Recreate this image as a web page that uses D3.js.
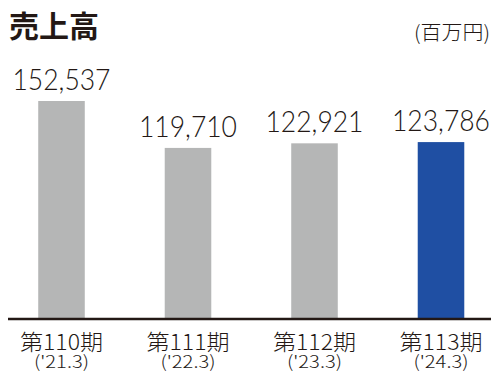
<!DOCTYPE html>
<html>
<head>
<meta charset="utf-8">
<script src="https://cdn.jsdelivr.net/npm/d3@7"></script>
<style>
  html, body { margin: 0; padding: 0; background: #fff; }
  svg { display: block; }
</style>
</head>
<body>
<svg id="chart" width="500" height="380"></svg>
<script>
const periods = ["第110期", "第111期", "第112期", "第113期"];
const dates = ["('21.3)", "('22.3)", "('23.3)", "('24.3)"];
const sales = [152537, 119710, 122921, 123786];
const title = "売上高";
const unit = "(百万円)";

const W = 500, H = 380;
const baseY = 319;
const svg = d3.select("#chart");
const ink = "#231815";
const cjk = "'Noto Sans CJK JP', 'Noto Sans', sans-serif";

const x = d3.scaleBand()
  .domain(periods)
  .range([-1.75, 504.25])
  .paddingInner(0.632)
  .paddingOuter(0.316);

const y = d3.scaleLinear()
  .domain([0, 152537])
  .range([baseY, 101]);

// bars
svg.append("g").selectAll("rect")
  .data(periods)
  .join("rect")
  .attr("x", d => x(d))
  .attr("width", x.bandwidth())
  .attr("y", (d, i) => y(sales[i]))
  .attr("height", (d, i) => baseY - y(sales[i]))
  .attr("fill", (d, i) => i === periods.length - 1 ? "#1f4fa3" : "#b5b6b6");

// value labels
svg.append("g").selectAll("text")
  .data(periods)
  .join("text")
  .attr("x", d => x(d) + x.bandwidth() / 2)
  .attr("y", (d, i) => y(sales[i]) - 11)
  .attr("text-anchor", "middle")
  .attr("font-family", "Lato, 'Noto Sans', sans-serif")
  .attr("font-weight", 300)
  .attr("font-size", 30)
  .attr("fill", ink)
  .attr("textLength", 98)
  .attr("lengthAdjust", "spacingAndGlyphs")
  .text((d, i) => d3.format(",")(sales[i]));

// baseline
svg.append("line")
  .attr("x1", 8).attr("x2", 491)
  .attr("y1", baseY).attr("y2", baseY)
  .attr("stroke", ink)
  .attr("stroke-width", 2.5);

// category labels (two lines in one text)
const cat = svg.append("g").selectAll("text")
  .data(periods)
  .join("text")
  .attr("text-anchor", "middle")
  .attr("font-family", cjk)
  .attr("font-weight", 300)
  .attr("fill", ink);
cat.append("tspan")
  .attr("x", d => x(d) + x.bandwidth() / 2)
  .attr("y", 350)
  .attr("font-size", 22)
  .attr("textLength", 83)
  .attr("lengthAdjust", "spacingAndGlyphs")
  .text(d => d);
cat.append("tspan")
  .attr("x", d => x(d) + x.bandwidth() / 2)
  .attr("y", 368)
  .attr("font-size", 17)
  .attr("textLength", 55)
  .attr("lengthAdjust", "spacingAndGlyphs")
  .text((d, i) => dates[i]);

// title
svg.append("text")
  .attr("x", 9).attr("y", 37)
  .attr("font-family", cjk)
  .attr("font-weight", "bold")
  .attr("font-size", 30)
  .attr("fill", ink)
  .text(title);

// unit
svg.append("text")
  .attr("x", 490).attr("y", 40)
  .attr("text-anchor", "end")
  .attr("font-family", cjk)
  .attr("font-weight", 300)
  .attr("font-size", 20)
  .attr("fill", ink)
  .attr("textLength", 76)
  .attr("lengthAdjust", "spacingAndGlyphs")
  .text(unit);
</script>
</body>
</html>
